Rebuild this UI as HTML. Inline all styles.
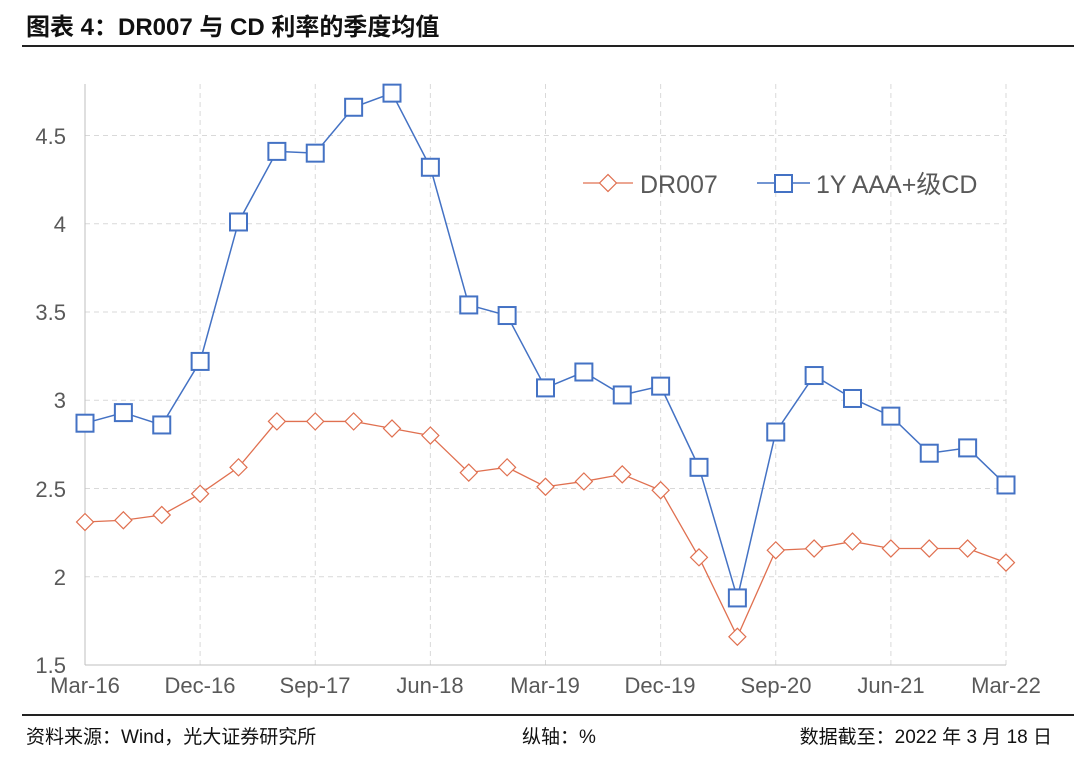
<!DOCTYPE html>
<html><head><meta charset="utf-8"><style>
body{margin:0;background:#fff;width:1080px;height:753px;overflow:hidden;font-family:"Liberation Sans","Noto Sans CJK SC",sans-serif;}
</style></head><body>
<svg id="s" width="1080" height="753" xmlns="http://www.w3.org/2000/svg" font-family="Liberation Sans, Noto Sans CJK SC, sans-serif">
<text x="26" y="35" font-size="24" font-weight="bold" fill="#111">图表 4：DR007 与 CD 利率的季度均值</text>
<rect x="22" y="45" width="1052" height="2" fill="#222"/>
<rect x="22" y="714" width="1052" height="2" fill="#222"/>
<text x="26" y="743" font-size="19" fill="#111">资料来源：Wind，光大证券研究所</text>
<text x="522" y="743" font-size="19" fill="#111">纵轴：%</text>
<text x="1052" y="743" font-size="19" fill="#111" text-anchor="end">数据截至：2022 年 3 月 18 日</text>
<g id="grid" stroke="#d9d9d9" stroke-dasharray="5,4" stroke-width="1"></g>
<line x1="85" y1="84" x2="85" y2="665" stroke="#bfbfbf"/>
<line x1="85" y1="665" x2="1006" y2="665" stroke="#bfbfbf"/>
<g font-size="22" fill="#595959" text-anchor="end">
<text x="66" y="673">1.5</text><text x="66" y="585">2</text><text x="66" y="497">2.5</text>
<text x="66" y="408">3</text><text x="66" y="320">3.5</text><text x="66" y="232">4</text><text x="66" y="144">4.5</text>
</g>
<g font-size="22" fill="#595959" text-anchor="middle">
<text x="85" y="693">Mar-16</text><text x="200" y="693">Dec-16</text><text x="315" y="693">Sep-17</text>
<text x="430" y="693">Jun-18</text><text x="545" y="693">Mar-19</text><text x="660" y="693">Dec-19</text>
<text x="776" y="693">Sep-20</text><text x="891" y="693">Jun-21</text><text x="1006" y="693">Mar-22</text>
</g>
<g id="series"></g>
<line x1="583" y1="183" x2="633" y2="183" stroke="#e07050" stroke-width="1.3"/>
<rect x="602" y="177" width="12" height="12" transform="rotate(45 608 183)" fill="#fff" stroke="#e07050" stroke-width="1.2"/>
<text x="640" y="193" font-size="25" fill="#595959">DR007</text>
<line x1="757" y1="183" x2="810" y2="183" stroke="#4472c4" stroke-width="1.5"/>
<rect x="775" y="175" width="17" height="17" fill="#fff" stroke="#4472c4" stroke-width="2"/>
<text x="816" y="193" font-size="25" fill="#595959">1Y AAA+级CD</text>
</svg>
<script>
var cd=[2.87,2.93,2.86,3.22,4.01,4.41,4.40,4.66,4.74,4.32,3.54,3.48,3.07,3.16,3.03,3.08,2.62,1.88,2.82,3.14,3.01,2.91,2.70,2.73,2.52];
var dr=[2.31,2.32,2.35,2.47,2.62,2.88,2.88,2.88,2.84,2.80,2.59,2.62,2.51,2.54,2.58,2.49,2.11,1.66,2.15,2.16,2.20,2.16,2.16,2.16,2.08];
var NS="http://www.w3.org/2000/svg";
function X(i){return 85+i*38.375}function Y(v){return 665-(v-1.5)*176.5}
function el(t,a,p){var e=document.createElementNS(NS,t);for(var k in a)e.setAttribute(k,a[k]);p.appendChild(e);return e}
var g=document.getElementById('grid');
[2,2.5,3,3.5,4,4.5].forEach(function(v){el('line',{x1:85,x2:1006,y1:Y(v),y2:Y(v)},g)});
for(var i=3;i<=24;i+=3)el('line',{x1:X(i),x2:X(i),y1:84,y2:665},g);
var s=document.getElementById('series');
el('polyline',{points:dr.map(function(v,i){return X(i)+','+Y(v)}).join(' '),fill:'none',stroke:'#e07050','stroke-width':1.3},s);
el('polyline',{points:cd.map(function(v,i){return X(i)+','+Y(v)}).join(' '),fill:'none',stroke:'#4472c4','stroke-width':1.5},s);
dr.forEach(function(v,i){var x=X(i),y=Y(v);el('rect',{x:x-6,y:y-6,width:12,height:12,transform:'rotate(45 '+x+' '+y+')',fill:'#fff',stroke:'#e07050','stroke-width':1.2},s)});
cd.forEach(function(v,i){var x=X(i),y=Y(v);el('rect',{x:x-8.5,y:y-8.5,width:17,height:17,fill:'#fff',stroke:'#4472c4','stroke-width':2},s)});
</script>
</body></html>
